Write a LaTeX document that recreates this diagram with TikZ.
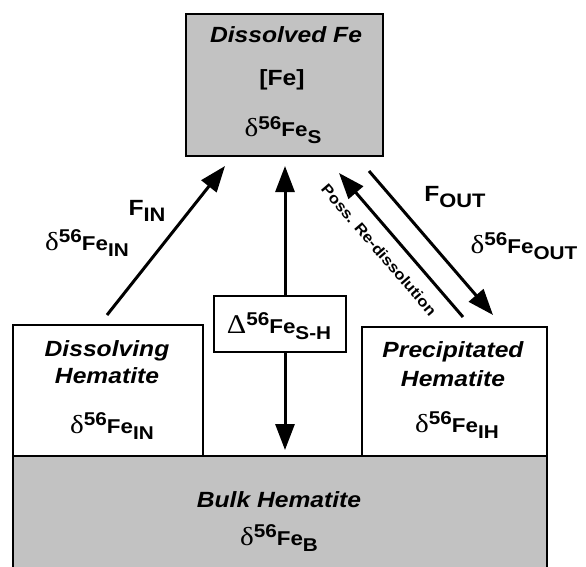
\documentclass[tikz,border=0pt]{standalone}
\usepackage{fontspec}
\setmainfont{Liberation Sans}[FakeStretch=1.12]
\newfontfamily\dfont{Liberation Serif}[FakeStretch=1.12]
\usetikzlibrary{arrows.meta}
\definecolor{stip}{gray}{0.76}
\newcommand\fsz[1]{\fontsize{#1}{#1}\selectfont}
\newcommand\iso[3][δ]{{\dfont\mdseries\fsz{#2}#1}\raisebox{8pt}{\fsz{18.5}56}Fe\raisebox{-6.5pt}{\fsz{18.5}#3}}
\begin{document}
\begin{tikzpicture}[x=1pt,y=-1pt,
  thickbox/.style={draw=black, line width=2.8pt, inner sep=0pt, outer sep=0pt},
  thinbox/.style={draw=black, line width=1.4pt, fill=white, inner sep=0pt, outer sep=0pt},
  lbl/.style={font=\bfseries\itshape\fsz{22}, anchor=base, inner sep=0pt},
  plain/.style={font=\bfseries\fsz{22}, anchor=base, inner sep=0pt},
  isolbl/.style={font=\bfseries\fsz{20}, anchor=base, inner sep=0pt},
  flow/.style={line width=3pt, -{Triangle[length=26pt,width=19pt]}},
  both/.style={line width=3pt, {Triangle[length=26pt,width=19pt]}-{Triangle[length=26pt,width=19pt]}}]
\useasboundingbox (0,0) rectangle (586,567);
\clip (0,0) rectangle (586,567);
% boxes
\node[thickbox, fill=stip, minimum width=534pt, minimum height=150pt] (bulk) at (280,531) {};
\node[thickbox, fill=white, minimum width=190pt, minimum height=131pt] (dis) at (108,390.5) {};
\node[thickbox, fill=white, minimum width=185pt, minimum height=129pt] (pre) at (454.5,391.5) {};
\node[thickbox, fill=stip, minimum width=197pt, minimum height=142pt] (sol) at (284.5,85) {};
% connector end points
\coordinate (inT) at (107,315);
\coordinate (inH) at (225,166);
\coordinate (vT) at (285,166);
\coordinate (vB) at (285,450);
\coordinate (reT) at (463,317);
\coordinate (reH) at (339,173);
\coordinate (outT) at (369,171);
\coordinate (outH) at (493,315);
\draw[flow] (inT) -- (inH);
\draw[both] (vT) -- (vB);
\draw[flow] (reT) -- (reH);
\draw[flow] (outT) -- (outH);
\node[thinbox, minimum width=132pt, minimum height=56pt] (dlt) at (280,324) {};
% texts
\node[lbl] (t1) at (286,43) {Dissolved Fe};
\node[plain] (t2) at (282,86) {[Fe]};
\node[isolbl] (t3) at (283,137) {\iso{26}{S}};
\node[lbl] (t4) at (107,356) {Dissolving};
\node[lbl] (t5) at (107,383) {Hematite};
\node[isolbl] (t6) at (112,433) {\iso{26}{IN}};
\node[lbl] (t7) at (453,357) {Precipitated};
\node[lbl] (t8) at (453,386) {Hematite};
\node[isolbl] (t9) at (457,432) {\iso{26}{IH}};
\node[isolbl] (t10) at (279,333) {\iso[Δ]{27}{S-H}};
\node[lbl] (t11) at (279,507) {Bulk Hematite};
\node[isolbl] (t12) at (279,545) {\iso{26}{B}};
\node[isolbl, font=\bfseries\fsz{22}] (t13) at (147,215) {F\raisebox{-6.5pt}{\fsz{19.5}IN}};
\node[isolbl] (t14) at (87,250) {\iso{26}{IN}};
\node[isolbl, font=\bfseries\fsz{22}] (t15) at (455,201) {F\raisebox{-6.5pt}{\fsz{19.5}OUT}};
\node[isolbl] (t16) at (524,253) {\iso{26}{OUT}};
\node[font=\bfseries\fsz{15}, rotate=-49.3, inner sep=0pt] (t17) at (379,250) {Poss. Re-dissolution};
\end{tikzpicture}
\end{document}
